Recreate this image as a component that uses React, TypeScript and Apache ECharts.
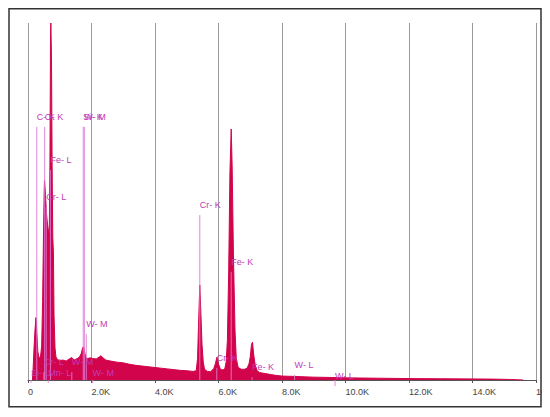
import React, { useEffect, useRef } from "react";
import * as echarts from "echarts";

// EDS spectrum: energy (keV) and counts (relative, 0..100)
const spectrumKeV = [
  0.14, 0.16, 0.19, 0.22, 0.25, 0.28, 0.31, 0.34, 0.37, 0.40, 0.43, 0.46, 0.49, 0.51, 0.52,
  0.55, 0.58, 0.61, 0.64, 0.67, 0.69, 0.71, 0.72, 0.74, 0.76, 0.78, 0.80, 0.82, 0.85, 0.88,
  0.92, 1.0, 1.1, 1.2, 1.3, 1.38, 1.45, 1.55, 1.62, 1.68, 1.72, 1.75, 1.78, 1.82, 1.88,
  1.95, 2.05, 2.15, 2.25, 2.30, 2.36, 2.45, 2.6, 2.8, 3.0, 3.2, 3.4, 3.6, 3.8, 4.0,
  4.2, 4.4, 4.6, 4.8, 5.0, 5.2, 5.30, 5.34, 5.37, 5.41, 5.44, 5.48, 5.52, 5.56, 5.65,
  5.75, 5.85, 5.90, 5.95, 6.00, 6.06, 6.14, 6.20, 6.24, 6.28, 6.32, 6.36, 6.40, 6.43, 6.47,
  6.52, 6.56, 6.62, 6.72, 6.82, 6.90, 6.96, 7.00, 7.04, 7.07, 7.11, 7.16, 7.22, 7.30, 7.4,
  7.6, 7.8, 8.0, 8.4, 9.0, 9.6, 10.0, 11.0, 12.0, 13.0, 14.0, 14.6, 15.2, 15.6,
];
const spectrumCounts = [
  0, 3, 9, 14, 17.5, 13, 8, 6.5, 6, 7, 9.5, 22, 42, 53, 56,
  52, 47, 44, 42, 41, 60, 97, 100, 90, 60, 40, 36, 18, 9, 6.5,
  5.8, 5.4, 5.6, 5.3, 5.9, 6.3, 5.6, 6.0, 6.4, 7.5, 9.0, 9.3, 8.0, 6.4, 6.0,
  6.2, 6.0, 5.9, 6.5, 6.8, 6.2, 5.6, 5.3, 5.0, 4.8, 4.4, 4.1, 3.9, 3.7, 3.5,
  3.3, 3.1, 2.9, 2.7, 2.6, 2.4, 2.6, 6, 15, 26.6, 20, 10, 5, 3, 2.4,
  2.3, 3.2, 4.5, 6.4, 4.5, 3.0, 2.8, 3.2, 5, 11, 30, 58, 70.3, 60, 35,
  14, 6, 3.5, 3.0, 3.0, 3.3, 4.5, 6.5, 10, 10.6, 7, 4, 2.5, 2.1, 1.9,
  1.6, 1.3, 1.1, 1.0, 0.8, 0.7, 0.6, 0.5, 0.4, 0.35, 0.3, 0.25, 0.15, 0,
];

// element markers
const markerNames = [
  "C- K", "O- K", "Si- K", "W- M", "Fe- L", "Cr- L", "W- M", "Cr- L", "W- M",
  "Si- L", "Mn- L", "W- M", "Cr- K", "Cr- K", "Fe- K", "Fe- K", "W- L", "W- L",
];
const markerKeV = [
  0.277, 0.525, 1.740, 1.775, 0.705, 0.573, 1.835, 0.500, 1.380,
  0.092, 0.637, 2.035, 5.411, 5.946, 6.400, 7.059, 8.397, 9.670,
];
const markerHeight = [
  70.9, 70.9, 70.9, 70.9, 58.8, 48.5, 12.9, 2.2, 2.2,
  -0.8, -0.8, -0.8, 46.2, 3.4, 30.3, 0.8, 1.4, -1.7,
];

const xMin = 0;
const xMax = 16000;
const xStep = 2000;

export default function App() {
  const ref = useRef<HTMLDivElement>(null);
  useEffect(() => {
    if (!ref.current) return;
    const chart = echarts.init(ref.current, null, { renderer: "svg" });
    const spectrum = spectrumKeV.map((e, i) => [e * 1000, spectrumCounts[i]]);
    const markers = markerKeV.map((e, i) => [e * 1000, markerHeight[i]]);
    const red = "#d2044b";
    chart.setOption({
      animation: false,
      graphic: [
        {
          type: "rect",
          z: 100,
          shape: { x: 1, y: 0.75, width: 532, height: 398 },
          style: { fill: "none", stroke: "#333", lineWidth: 1.5 },
        },
      ],
      grid: {
        left: 20,
        right: 6,
        top: 15,
        bottom: 28,
        containLabel: false,
        outerBoundsMode: "none",
      },
      xAxis: {
        type: "value",
        min: xMin,
        max: xMax,
        interval: xStep,
        axisLine: { show: true, lineStyle: { color: "#555", width: 1 } },
        axisTick: { show: true, length: 3, lineStyle: { color: "#555" } },
        axisLabel: {
          align: "left",
          color: "#444",
          fontSize: 9,
          fontFamily: "Liberation Sans, Arial, sans-serif",
          margin: 7,
          hideOverlap: false,
          formatter: (v: number) => (v === 0 ? "0" : (v / 1000).toFixed(1) + "K"),
        },
        splitLine: { show: true, lineStyle: { color: "#999", width: 1 } },
      },
      yAxis: {
        type: "value",
        min: 0,
        max: 100,
        show: false,
        splitLine: { show: false },
      },
      series: [
        {
          type: "line",
          data: spectrum,
          symbol: "none",
          z: 2,
          lineStyle: { color: red, width: 1 },
          itemStyle: { color: red },
          areaStyle: { color: red, opacity: 1 },
        },
        {
          type: "custom",
          z: 5,
          clip: false,
          data: markers,
          renderItem: (params: any, api: any) => {
            const e = api.value(0);
            const h = api.value(1);
            const pTop = api.coord([e, h]);
            const pBase = api.coord([e, 0]);
            return {
              type: "group",
              children: [
                {
                  type: "line",
                  shape: { x1: pTop[0], y1: pTop[1], x2: pBase[0], y2: pBase[1] },
                  style: { stroke: "#e07ad4", lineWidth: 1, opacity: 0.9 },
                },
                {
                  type: "text",
                  x: pTop[0],
                  y: pTop[1] - 10,
                  style: {
                    text: markerNames[params.dataIndex],
                    fill: "#c23cb4",
                    fontSize: 9,
                    fontFamily: "Liberation Sans, Arial, sans-serif",
                    align: "left",
                    verticalAlign: "middle",
                  },
                },
              ],
            };
          },
        },
      ],
    });
    return () => chart.dispose();
  }, []);
  return <div ref={ref} style={{ width: 534, height: 400 }} />;
}
